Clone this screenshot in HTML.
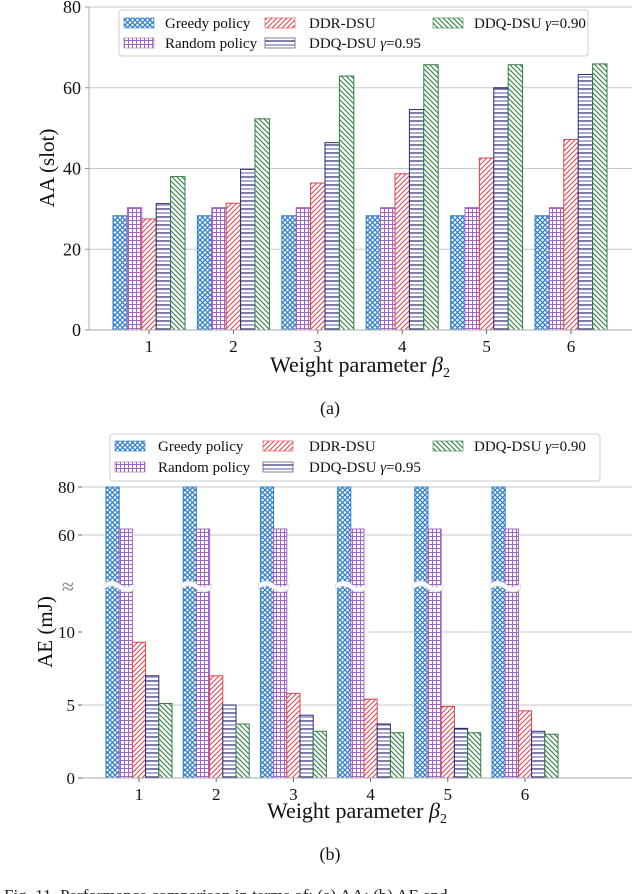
<!DOCTYPE html>
<html><head><meta charset="utf-8"><style>
html,body{margin:0;padding:0;background:#fff;overflow:hidden;}
svg{display:block;font-family:"Liberation Serif",serif;}
</style></head><body>
<svg id="fig" width="636" height="894" viewBox="0 0 636 894" xmlns="http://www.w3.org/2000/svg">
<defs>
<pattern id="pGreedy" patternUnits="userSpaceOnUse" width="5" height="5">
<rect width="5" height="5" fill="#fff"/><path d="M0,0L5,5M5,0L0,5" stroke="#2f7fc8" stroke-width="1.3"/></pattern>
<pattern id="pRandom" patternUnits="userSpaceOnUse" width="4" height="4">
<rect width="4" height="4" fill="#fff"/><path d="M0,0.5H4M0.5,0V4" stroke="#a064c4" stroke-width="1"/></pattern>
<pattern id="pDDR" patternUnits="userSpaceOnUse" width="5" height="5">
<rect width="5" height="5" fill="#fff"/><path d="M0,5L5,0M-1,1L1,-1M4,6L6,4" stroke="#e0404a" stroke-width="1"/></pattern>
<pattern id="pDDQ95" patternUnits="userSpaceOnUse" width="6" height="8">
<rect width="6" height="8" fill="#fff"/><path d="M0,1H6" stroke="#2a2a6a" stroke-width="1.2"/><path d="M0,5H6" stroke="#7070c0" stroke-width="1.2"/></pattern>
<pattern id="pDDQ90" patternUnits="userSpaceOnUse" width="5" height="5">
<rect width="5" height="5" fill="#fff"/><path d="M0,0L5,5M-1,4L1,6M4,-1L6,1" stroke="#2e7d3e" stroke-width="1.1"/></pattern>
</defs>
<g id="top"></g>
<g id="bottom"></g>
<text x="4" y="901" font-size="17" fill="#222">Fig. 11.   Performance comparison in terms of: (a) AA; (b) AE and</text>
</svg>
<script>
const categories = ["1","2","3","4","5","6"];
const seriesNames = ["Greedy policy","Random policy","DDR-DSU","DDQ-DSU |0.95","DDQ-DSU |0.90"];
const aaGreedy = [28.3,28.3,28.3,28.3,28.3,28.3];
const aaRandom = [30.3,30.3,30.3,30.3,30.3,30.3];
const aaDDR = [27.5,31.4,36.4,38.7,42.6,47.2];
const aaDDQ95 = [31.3,39.8,46.4,54.6,60.0,63.3];
const aaDDQ90 = [38.0,52.3,62.9,65.7,65.7,65.9];
const aaTicks = [0,20,40,60,80];
const aeGreedy = [85,85,85,85,85,85];
const aeRandom = [62.5,62.5,62.5,62.5,62.5,62.5];
const aeDDR = [9.3,7.0,5.8,5.4,4.9,4.6];
const aeDDQ95 = [7.0,5.0,4.3,3.7,3.4,3.2];
const aeDDQ90 = [5.1,3.7,3.2,3.1,3.1,3.0];
const aeTicksLow = [0,5,10];
const aeTicksHigh = [60,80];

const NS="http://www.w3.org/2000/svg";
const pats=["pGreedy","pRandom","pDDR","pDDQ95","pDDQ90"];
const edges=["#2f7fc8","#a064c4","#e0404a","#2a2a6a","#2e7d3e"];
function mk(tag,attrs,parent,text){const e=document.createElementNS(NS,tag);for(const k in attrs)e.setAttribute(k,attrs[k]);if(text!==undefined)e.textContent=text;parent.appendChild(e);return e;}

function legend(g,x,y,w,h,sx,tx,rows){
  const r=mk("rect",{x:x,y:y,width:w,height:h,rx:3,fill:"#fff",stroke:"#ccc","stroke-width":1},g);
  
  
  const pos=[[0,0],[0,1],[1,0],[1,1],[2,0]];
  seriesNames.forEach((n,i)=>{
    const c=pos[i][0],rr=pos[i][1];
    const yy=rows[rr];
    const sw=mk("rect",{x:sx[c],y:yy-5,width:30,height:10,fill:"url(#"+pats[i]+")",stroke:edges[i],"stroke-width":0.6},g);
    
    
    const t=mk("text",{x:tx[c],y:yy+5,"font-size":"15",fill:"#111"},g);
    if(n.indexOf('|')>=0){const p=n.split('|');t.innerHTML=p[0]+'<tspan font-style="italic">γ</tspan>='+p[1];}
    else t.textContent=n;
    
    
  });
}

// ---- TOP chart ----
(function(){
  const g=document.getElementById("top");
  const x0=89,x1=632,yB=330,yT=7;
  const yS=v=>yB-(v/80)*(yB-yT);
  const cx=i=>149+i*84.4;
  const bw=14.4;
  aaTicks.forEach(t=>{
    if(t>0){const l=mk("line",{x1:x0,x2:x1,y1:yS(t),y2:yS(t),stroke:"#c8c8c8","stroke-width":1},g);
    
    }
    mk("line",{x1:x0-4,x2:x0,y1:yS(t),y2:yS(t),stroke:"#999"},g);
    const tl=mk("text",{x:x0-8,y:yS(t)+6,"font-size":"18","text-anchor":"end",fill:"#111"},g,String(t));
    
    
  });
  const series=[aaGreedy,aaRandom,aaDDR,aaDDQ95,aaDDQ90];
  series.forEach((s,k)=>s.forEach((v,i)=>{
    const x=cx(i)-2.5*bw+k*bw;
    const b=mk("rect",{x:x,y:yS(v),width:bw,height:yB-yS(v),fill:"url(#"+pats[k]+")",stroke:edges[k],"stroke-width":1},g);
    
    
  }));
  const ax=mk("line",{x1:x0,x2:x0,y1:yT,y2:yB,stroke:"#aaa"},g);
  
  
  const bx=mk("line",{x1:x0,x2:x1,y1:yB,y2:yB,stroke:"#aaa"},g);
  
  
  categories.forEach((c,i)=>{
    mk("line",{x1:cx(i),x2:cx(i),y1:yB,y2:yB+4,stroke:"#666"},g);
    const t=mk("text",{x:cx(i),y:yB+22,"font-size":"17","text-anchor":"middle",fill:"#111"},g,c);
    
    
  });
  const xt=mk("text",{x:360,y:372,"font-size":"22","text-anchor":"middle",fill:"#111"},g);
  xt.innerHTML='Weight parameter <tspan font-style="italic">β</tspan><tspan font-size="14" dy="5">2</tspan>';
  
  
  const yt=mk("text",{x:0,y:0,"font-size":"21","text-anchor":"middle",fill:"#111",transform:"translate(54,168) rotate(-90)"},g,"AA (slot)");
  
  
  const cap=mk("text",{x:330,y:414,"font-size":"18","text-anchor":"middle",fill:"#111"},g,"(a)");
  
  
  legend(g,119,10,469,46,[124,265,433],[165,309,474],[23,43]);
})();

// ---- BOTTOM chart ----
(function(){
  const g=document.getElementById("bottom");
  const x0=82,x1=632,yB=778,yBreak=586,yTop=487;
  const lowS=v=>yB-v*14.6;
  const highS=v=>535-(v-60)*2.4;
  const yS=v=>v<=13?lowS(v):Math.max(yTop,highS(v));
  const cx=i=>139+i*77.2;
  const bw=13.2;
  [[5,x0],[10,368]].forEach(([t,xs])=>{
    const l=mk("line",{x1:xs,x2:x1,y1:lowS(t),y2:lowS(t),stroke:"#c8c8c8"},g);
    
    
  });
  aeTicksHigh.forEach(t=>{
    const l=mk("line",{x1:x0,x2:x1,y1:highS(t),y2:highS(t),stroke:"#c8c8c8"},g);
    
    
  });
  aeTicksLow.concat(aeTicksHigh).forEach(t=>{
    const y=t<=13?lowS(t):highS(t);
    mk("line",{x1:x0-4,x2:x0,y1:y,y2:y,stroke:"#666"},g);
    const tl=mk("text",{x:x0-7,y:y+6,"font-size":"17","text-anchor":"end",fill:"#111"},g,String(t));
    
    
  });
  const br=mk("text",{x:x0-8,y:yBreak+8,"font-size":"22","text-anchor":"end",fill:"#777"},g,"≈");
  
  
  const series=[aeGreedy,aeRandom,aeDDR,aeDDQ95,aeDDQ90];
  series.forEach((s,k)=>s.forEach((v,i)=>{
    const x=cx(i)-2.5*bw+k*bw;
    const y=yS(v);
    const b=mk("rect",{x:x,y:y,width:bw,height:yB-y,fill:"url(#"+pats[k]+")",stroke:edges[k],"stroke-width":1},g);
    
    
  }));
  categories.forEach((c,i)=>{
    const xs=cx(i)-2.5*bw-2, w=2*bw+4;
    const wv=mk("path",{d:`M${xs},${yBreak-2} q${w/4},-6 ${w/2},0 t${w/2},0 v5 q-${w/4},6 -${w/2},0 t-${w/2},0 z`,fill:"#fff",stroke:"#ddd","stroke-width":0.8},g);
    
    
  });
  const bx=mk("line",{x1:x0,x2:x1,y1:yB,y2:yB,stroke:"#aaa"},g);
  
  
  categories.forEach((c,i)=>{
    mk("line",{x1:cx(i),x2:cx(i),y1:yB,y2:yB+4,stroke:"#666"},g);
    const t=mk("text",{x:cx(i),y:yB+22,"font-size":"17","text-anchor":"middle",fill:"#111"},g,c);
    
    
  });
  const xt=mk("text",{x:357,y:818,"font-size":"22","text-anchor":"middle",fill:"#111"},g);
  xt.innerHTML='Weight parameter <tspan font-style="italic">β</tspan><tspan font-size="14" dy="5">2</tspan>';
  
  
  const yt=mk("text",{x:0,y:0,"font-size":"21","text-anchor":"middle",fill:"#111",transform:"translate(52,632) rotate(-90)"},g,"AE (mJ)");
  
  
  const cap=mk("text",{x:330,y:860,"font-size":"18","text-anchor":"middle",fill:"#111"},g,"(b)");
  
  
  legend(g,110,434,490,47,[115,263,433],[158,309,474],[446,467]);
})();
</script>
</body></html>
